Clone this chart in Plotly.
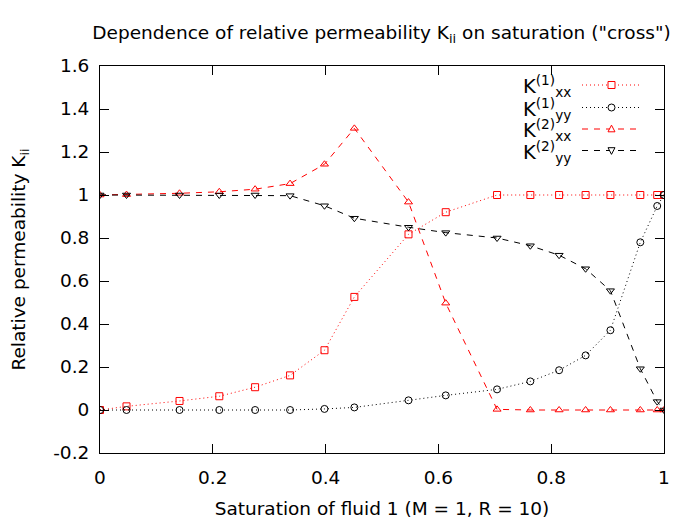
import plotly.graph_objects as go

# saturation of fluid 1 (shared by all four curves)
sat = [0.0, 0.047, 0.141, 0.2115, 0.275, 0.337, 0.398, 0.451, 0.547, 0.613,
       0.704, 0.763, 0.814, 0.861, 0.905, 0.958, 0.988, 1.0]

k1_xx = [0.0, 0.017, 0.042, 0.064, 0.106, 0.161, 0.278, 0.526, 0.817, 0.92,
         1.0, 1.0, 1.0, 1.0, 1.0, 1.0, 1.0, 1.0]
k1_yy = [0.0, 0.0, 0.0, 0.0, 0.0, 0.0, 0.005, 0.012, 0.045, 0.068,
         0.096, 0.133, 0.185, 0.254, 0.371, 0.78, 0.949, 1.0]
k2_xx = [1.0, 1.002, 1.008, 1.015, 1.027, 1.053, 1.143, 1.31, 0.967, 0.497,
         0.003, 0.0, 0.0, 0.0, 0.0, 0.0, 0.0, 0.0]
k2_yy = [1.0, 1.0, 1.0, 1.0, 1.0, 0.997, 0.95, 0.892, 0.85, 0.825,
         0.80, 0.764, 0.72, 0.657, 0.555, 0.192, 0.039, 0.0]

names = ["K<sup>(1)</sup><sub>xx</sub>", "K<sup>(1)</sup><sub>yy</sub>",
         "K<sup>(2)</sup><sub>xx</sub>", "K<sup>(2)</sup><sub>yy</sub>"]

x_ticks = [0, 0.2, 0.4, 0.6, 0.8, 1]
x_labels = ["0", "0.2", "0.4", "0.6", "0.8", "1"]
y_ticks = [-0.2, 0, 0.2, 0.4, 0.6, 0.8, 1, 1.2, 1.4, 1.6]
y_labels = ["-0.2", "0", "0.2", "0.4", "0.6", "0.8", "1", "1.2", "1.4", "1.6"]

FONT = "DejaVu Sans"
FS = 18.5
RED = "#ff0000"
BLACK = "#000000"
DOT = "1px,3px"
DASH = "6px,6px"

W, H = 700, 524
ML, MR, MT, MB = 100, 36, 66, 71
PW, PH = W - ML - MR, H - MT - MB

fig = go.Figure()

styles = [
    (k1_xx, RED, DOT, "square-open"),
    (k1_yy, BLACK, DOT, "circle-open"),
    (k2_xx, RED, DASH, "triangle-up-open"),
    (k2_yy, BLACK, DASH, "triangle-down-open"),
]

for (y, color, dash, symbol), name in zip(styles, names):
    # open symbols take their stroke colour from marker.color
    fig.add_trace(go.Scatter(
        x=sat, y=y, name=name, mode="lines+markers", showlegend=False,
        line=dict(color=color, width=1, dash=dash),
        marker=dict(symbol=symbol, size=7, color=color, line=dict(width=1)),
    ))

# gnuplot-style key: label on the left, line sample + marker on the right
def px2x(p):
    return (p - ML) / PW

def px2y(p):
    return (H - MB - p) / PH

key_rows = [85, 107.5, 129, 150.5]
key_text_right = 573
key_x0, key_x1, key_mark = 582, 639, 611.5
half = 3.5
for (y, color, dash, symbol), name, row in zip(styles, names, key_rows):
    fig.add_annotation(text=name, xref="paper", yref="paper",
                       x=px2x(key_text_right), y=px2y(row + 1),
                       xanchor="right", yanchor="middle", showarrow=False,
                       font=dict(family=FONT, size=19.5, color="black"))
    fig.add_shape(type="line", xref="paper", yref="paper",
                  x0=px2x(key_x0), x1=px2x(key_x1), y0=px2y(row), y1=px2y(row),
                  line=dict(color=color, width=1, dash=dash))
    cx, cy = key_mark, row
    box = dict(xref="paper", yref="paper", fillcolor="white",
               line=dict(color=color, width=1))
    if symbol.startswith("square"):
        fig.add_shape(type="rect", x0=px2x(cx - half), x1=px2x(cx + half),
                      y0=px2y(cy + half), y1=px2y(cy - half), **box)
    elif symbol.startswith("circle"):
        fig.add_shape(type="circle", x0=px2x(cx - half), x1=px2x(cx + half),
                      y0=px2y(cy + half), y1=px2y(cy - half), **box)
    else:
        s = -1 if "up" in symbol else 1
        pts = [(cx - half, cy - s * half * 0.8), (cx + half, cy - s * half * 0.8),
               (cx, cy + s * half * 1.1)]
        path = "M " + " L ".join(f"{px2x(a):.5f},{px2y(b):.5f}" for a, b in pts) + " Z"
        fig.add_shape(type="path", path=path, **box)

axis_style = dict(showline=True, linecolor="black", linewidth=1, mirror="ticks",
                  ticks="inside", ticklen=9, tickcolor="black", showgrid=False,
                  zeroline=False, automargin=False,
                  tickfont=dict(family=FONT, size=FS, color="black"))

fig.update_xaxes(range=[0, 1], tickvals=x_ticks, ticktext=x_labels,
                 title=dict(text="Saturation of fluid 1 (M = 1, R = 10)",
                            font=dict(family=FONT, size=FS, color="black"), standoff=14),
                 ticklabelstandoff=8, **axis_style)
fig.update_yaxes(range=[-0.2, 1.6], tickvals=y_ticks, ticktext=y_labels,
                 title=dict(text="Relative permeability K<sub>ii</sub>",
                            font=dict(family=FONT, size=FS, color="black"), standoff=22),
                 ticklabelstandoff=6, **axis_style)

fig.update_layout(
    width=W, height=H,
    margin=dict(l=ML, r=MR, t=MT, b=MB),
    plot_bgcolor="white", paper_bgcolor="white",
    font=dict(family=FONT, size=FS, color="black"),
    title=dict(text='Dependence of relative permeability K<sub>ii</sub> on saturation ("cross")',
               x=0.545, xanchor="center", y=0.937, yanchor="middle",
               font=dict(family=FONT, size=FS, color="black")),
)

fig.write_html("out.html", config={"displayModeBar": False},
               post_script="document.body.style.margin='0';")
